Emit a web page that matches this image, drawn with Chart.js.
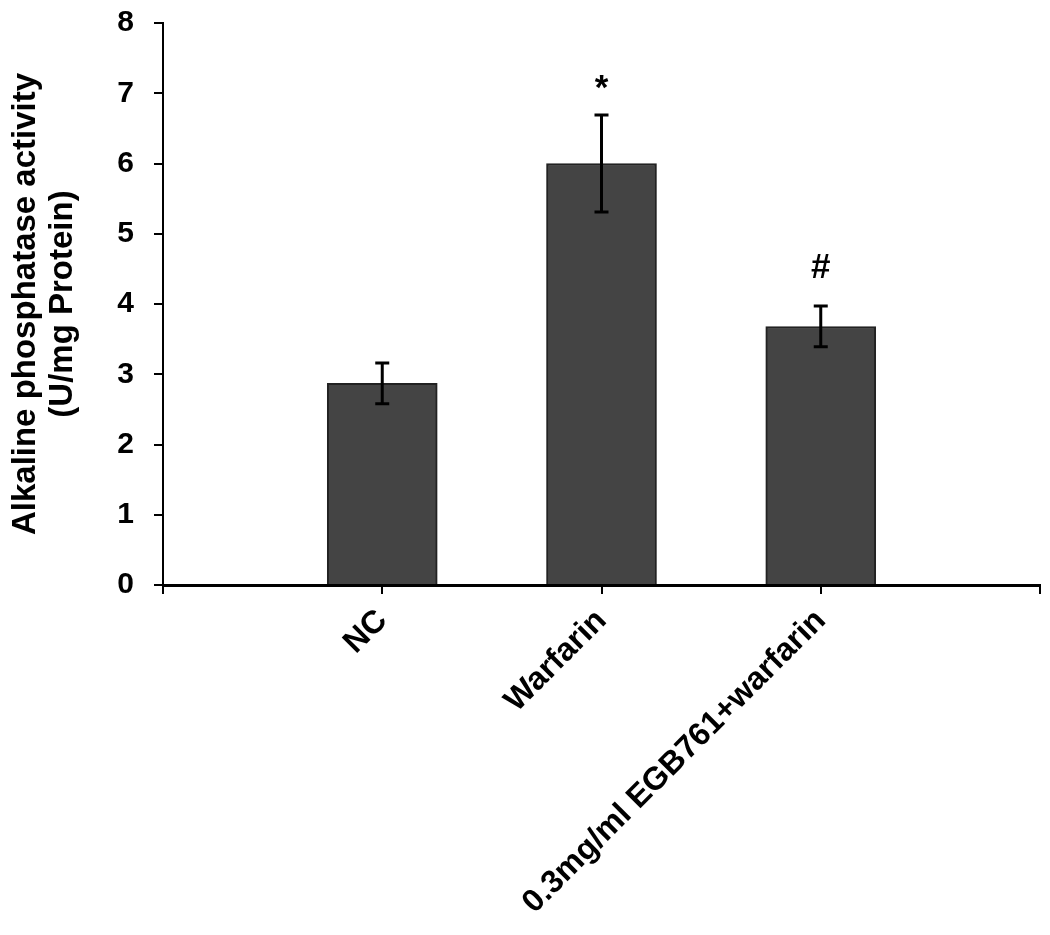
<!DOCTYPE html>
<html>
<head>
<meta charset="utf-8">
<script src="https://cdn.jsdelivr.net/npm/chart.js@4"></script>
<style>
  html, body { margin: 0; padding: 0; background: #fff; }
  #wrap { width: 1050px; height: 935px; }
</style>
</head>
<body>
<div id="wrap"><canvas id="myChart" width="1050" height="935"></canvas></div>
<script>
// data (blank slots at both ends keep the outer tick marks)
const groups = ["", "NC", "Warfarin", "0.3mg/ml EGB761+warfarin", ""];
const means = [null, 2.87, 6.0, 3.68, null];
const errors = [null, 0.29, 0.69, 0.29, null];
const marks = ["", "", "*", "#", ""];
const yTicks = [0, 1, 2, 3, 4, 5, 6, 7, 8];

const fontFam = "Arial, 'Liberation Sans', sans-serif";

// error bars + significance marks
const errorBars = {
  id: "errorBars",
  afterDatasetsDraw(chart) {
    const ctx = chart.ctx;
    const y = chart.scales.y;
    const meta = chart.getDatasetMeta(0);
    ctx.save();
    for (let i = 0; i < means.length; i++) {
      if (means[i] == null) continue;
      const x = meta.data[i].x;
      const top = y.getPixelForValue(means[i] + errors[i]);
      const bot = y.getPixelForValue(means[i] - errors[i]);
      ctx.strokeStyle = "#000";
      ctx.lineWidth = 3;
      ctx.beginPath();
      ctx.moveTo(x, top); ctx.lineTo(x, bot);
      ctx.moveTo(x - 7, top); ctx.lineTo(x + 7, top);
      ctx.moveTo(x - 7, bot); ctx.lineTo(x + 7, bot);
      ctx.stroke();

      if (marks[i]) {
        ctx.fillStyle = "#000";
        ctx.font = "bold 35px " + fontFam;
        ctx.textAlign = "center";
        ctx.textBaseline = "middle";
        // '*' sits high in its line box, '#' is centred
        const gap = marks[i] === "*" ? 26 : 38;
        ctx.fillText(marks[i], x, top - gap);
      }
    }
    ctx.restore();
  }
};

const ctx = document.getElementById("myChart").getContext("2d");
const myChart = new Chart(ctx, {
  type: "bar",
  data: {
    labels: groups,
    datasets: [{
      data: means,
      backgroundColor: "#444444",
      borderColor: "#222222",
      borderWidth: 2,
      barThickness: 110
    }]
  },
  options: {
    responsive: false,
    animation: false,
    layout: { padding: { top: 23, right: 10, left: 8, bottom: 0 } },
    plugins: {
      legend: { display: false },
      tooltip: { enabled: false }
    },
    scales: {
      x: {
        offset: false,
        grid: { display: true, offset: false, drawOnChartArea: false, drawTicks: true, tickLength: 9, color: "#000", lineWidth: 2 },
        border: { display: true, color: "#000", width: 3 },
        ticks: {
          autoSkip: false,
          maxRotation: 45,
          minRotation: 45,
          color: "#000",
          padding: 8,
          font: { family: fontFam, size: 32, weight: "bold" }
        },
        afterFit(scale) {
          scale.height = 350;
          scale.paddingLeft = 0;
          scale.paddingRight = 0;
        }
      },
      y: {
        min: 0,
        max: 8,
        afterBuildTicks(scale) { scale.ticks = yTicks.map(v => ({ value: v })); },
        grid: { display: true, drawOnChartArea: false, drawTicks: true, tickLength: 9, color: "#000", lineWidth: 2 },
        border: { display: true, color: "#000", width: 2 },
        ticks: {
          color: "#000",
          padding: 20,
          font: { family: fontFam, size: 30, weight: "bold" }
        },
        title: {
          display: true,
          text: ["Alkaline phosphatase activity", "(U/mg Protein)"],
          color: "#000",
          padding: { top: 0, bottom: 2 },
          font: { family: fontFam, size: 33, weight: "bold", lineHeight: 1.1 }
        },
        afterFit(scale) {
          scale.width = 155;
          scale.paddingTop = 0;
          scale.paddingBottom = 0;
        }
      }
    }
  },
  plugins: [errorBars]
});
</script>
</body>
</html>
